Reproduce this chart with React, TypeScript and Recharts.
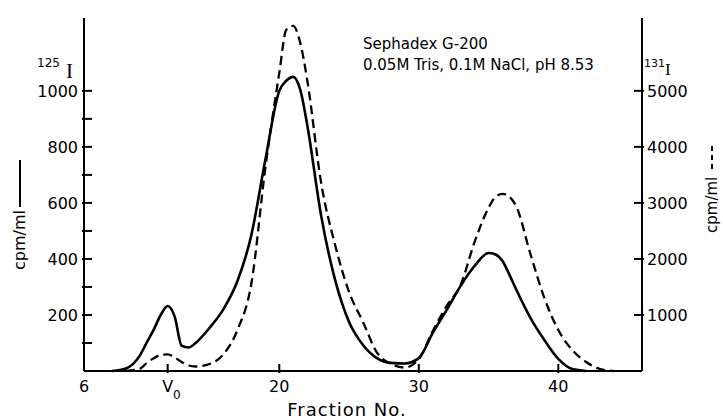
import React from 'react';
import { LineChart, Line, XAxis, YAxis } from 'recharts';

// fraction numbers (finer steps where the curves bend fast)
const fractions = [
  8, 9, 10, 10.5, 11, 11.5, 12, 12.5, 13, 13.5, 14, 15, 16, 17, 18, 19, 20, 20.5, 21, 21.5, 22,
  23, 24, 25, 26, 27, 28, 29, 30, 31, 32, 33, 34, 35, 35.5, 36, 36.5, 37, 38, 39, 40, 41, 42, 43, 44,
];

// 125I, cpm/ml (solid, left axis)
const cpm125 = [
  0, 9, 55, 102, 148, 200, 232, 194, 90, 84, 100, 154, 221, 321, 486, 754, 1000, 1036, 1050, 1004, 879,
  554, 325, 175, 93, 46, 29, 27, 46, 136, 218, 304, 375, 421, 416, 393, 343, 289, 190, 111, 43, 7, 0,
  null, null,
];

// 131I, cpm/ml (dashed, right axis)
const cpm131 = [
  null, 0, 40, 143, 227, 286, 295, 241, 161, 98, 80, 125, 300, 732, 1565, 3625, 5321, 6089, 6160, 5857,
  5196, 3357, 2250, 1411, 875, 330, 125, 62, 214, 714, 1161, 1536, 2304, 2911, 3107, 3161, 3107, 2929,
  2089, 1304, 732, 375, 161, 36, 0,
];

const leftTicks = [100, 200, 300, 400, 500, 600, 700, 800, 900, 1000];
const rightTicks = [1000, 2000, 3000, 4000, 5000];
const xTicks = [6, 12, 20, 30, 40];

const data = fractions.map((f, i) => ({ fraction: f, i125: cpm125[i], i131: cpm131[i] }));

const FONT = '"DejaVu Sans", sans-serif';

const LeftTick = (props: any) => {
  const { x, y, payload } = props;
  return (
    <g>
      <line x1={x} x2={x + 10} y1={y} y2={y} stroke="#000" strokeWidth={2} />
      {payload.value % 200 === 0 && (
        <text x={x - 4} y={y + 6} textAnchor="end" fontSize={16} fontFamily={FONT} fill="#000">
          {payload.value}
        </text>
      )}
    </g>
  );
};

const RightTick = (props: any) => {
  const { x, y, payload } = props;
  return (
    <g>
      <line x1={x - 10} x2={x} y1={y} y2={y} stroke="#000" strokeWidth={2} />
      <text x={x + 3} y={y + 6} textAnchor="start" fontSize={16} fontFamily={FONT} fill="#000">
        {payload.value}
      </text>
    </g>
  );
};

const BottomTick = (props: any) => {
  const { x, y, payload } = props;
  const v = payload.value;
  return (
    <g>
      {v !== 6 && <line x1={x} x2={x} y1={y} y2={y - 9} stroke="#000" strokeWidth={2} />}
      {v === 12 ? (
        <>
          <text x={x} y={y + 19} textAnchor="middle" fontSize={16} fontFamily={FONT} fill="#000">V</text>
          <text x={x + 9} y={y + 26} textAnchor="middle" fontSize={12} fontFamily={FONT} fill="#000">0</text>
        </>
      ) : (
        <text x={x} y={y + 19} textAnchor="middle" fontSize={16} fontFamily={FONT} fill="#000">
          {v}
        </text>
      )}
    </g>
  );
};

export default function App() {
  return (
    <div style={{ position: 'relative', width: 723, height: 420, background: '#fff' }}>
      <style>{'body{margin:0}'}</style>
      <LineChart width={723} height={420} data={data} margin={{ top: 18, right: 0, bottom: 0, left: 0 }}>
        <XAxis
          dataKey="fraction"
          type="number"
          domain={[6, 46]}
          ticks={xTicks}
          interval={0}
          height={49}
          tickSize={0}
          tickLine={false}
          tick={<BottomTick />}
          axisLine={{ stroke: '#000', strokeWidth: 2 }}
        />
        <YAxis
          yAxisId="left"
          orientation="left"
          domain={[0, 1260]}
          ticks={leftTicks}
          interval={0}
          width={84}
          tickSize={0}
          tickLine={false}
          tick={<LeftTick />}
          axisLine={{ stroke: '#000', strokeWidth: 2 }}
        />
        <YAxis
          yAxisId="right"
          orientation="right"
          domain={[0, 6300]}
          ticks={rightTicks}
          interval={0}
          width={81}
          tickSize={0}
          tickLine={false}
          tick={<RightTick />}
          axisLine={{ stroke: '#000', strokeWidth: 2 }}
        />
        <Line
          yAxisId="left"
          dataKey="i125"
          type="monotone"
          stroke="#000"
          strokeWidth={2.6}
          dot={false}
          activeDot={false}
          isAnimationActive={false}
        />
        <Line
          yAxisId="right"
          dataKey="i131"
          type="monotone"
          stroke="#000"
          strokeWidth={2.3}
          strokeDasharray="9 5"
          dot={false}
          activeDot={false}
          isAnimationActive={false}
        />
      </LineChart>
      <svg
        width={723}
        height={420}
        style={{ position: 'absolute', left: 0, top: 0, pointerEvents: 'none' }}
        fontFamily={FONT}
        fill="#000"
      >
        <text x={363} y={49} fontSize={15}>Sephadex G-200</text>
        <text x={363} y={70} fontSize={15}>0.05M Tris, 0.1M NaCl, pH 8.53</text>
        <text x={37} y={67} fontSize={12}>125</text>
        <text x={66} y={78} fontSize={21} fontFamily='"Liberation Serif", serif'>I</text>
        <text x={644} y={67} fontSize={11}>131</text>
        <text x={665} y={75} fontSize={17} fontFamily='"Liberation Serif", serif'>I</text>
        <text x={347} y={416} fontSize={18} textAnchor="middle" letterSpacing={1}>Fraction No.</text>
        <text x={25} y={270} fontSize={16} transform="rotate(-90 25 270)">cpm/ml</text>
        <line x1={20} x2={20} y1={207} y2={160} stroke="#000" strokeWidth={2} />
        <text x={717} y={233} fontSize={15} transform="rotate(-90 717 233)">cpm/ml</text>
        <line x1={712} x2={712} y1={169} y2={145} stroke="#000" strokeWidth={2} strokeDasharray="5 4" />
      </svg>
    </div>
  );
}
